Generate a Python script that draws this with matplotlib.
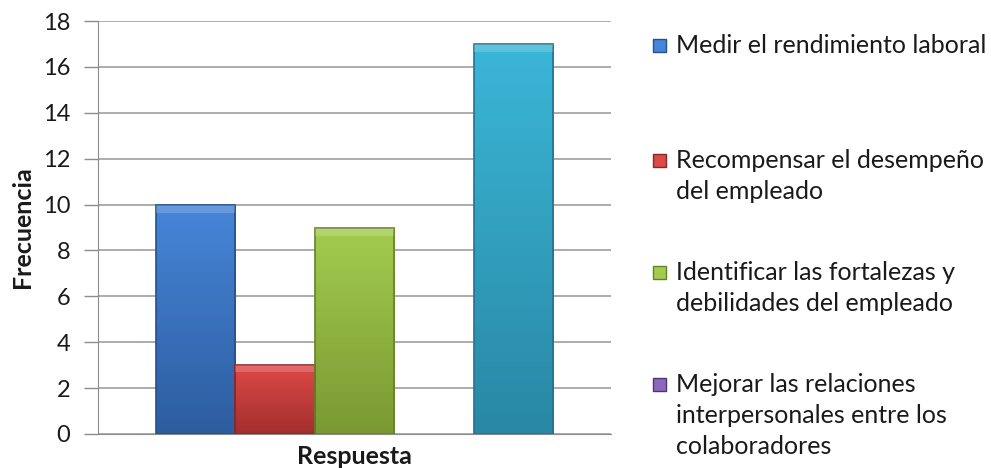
import numpy as np
import matplotlib.pyplot as plt
from matplotlib.colors import LinearSegmentedColormap
from matplotlib.patches import Rectangle

# Survey responses: one bar per answer, all under a single category
series = ['Medir el rendimiento laboral',
          'Recompensar el desempeño\ndel empleado',
          'Identificar las fortalezas y\ndebilidades del empleado',
          'Mejorar las relaciones\ninterpersonales entre los\ncolaboradores',
          'Otra']
values = [10, 3, 9, 0, 17]
y_ticks = [0, 2, 4, 6, 8, 10, 12, 14, 16, 18]

# (top, bottom) gradient colours for each bar
grad = [('#4686d8', '#2d5d9f'),
        ('#dc4a47', '#a32f2d'),
        ('#a3cc4e', '#7a9933'),
        ('#8c68bc', '#5b4185'),
        ('#3bb6d7', '#2988a5')]
edge = ['#24508c', '#8c2624', '#66802a', '#4b366e', '#207490']

plt.rcParams['font.family'] = ['Lato', 'DejaVu Sans']

W, H = 991, 468
fig = plt.figure(figsize=(W / 100, H / 100), dpi=100)
ax = fig.add_axes([98 / W, 1 - 434 / H, (611 - 98) / W, (434 - 21) / H])

n = len(values)
bw = 0.155
xs = (np.arange(n) - (n - 1) / 2) * bw
bars = ax.bar(xs, values, width=bw, color='none', edgecolor='none', zorder=3)

ax.set_xlim(-0.5, 0.5)
ax.set_ylim(0, 18)

# vertical gradient fill clipped to each bar, plus a lighter bevel at the top
for b, (c1, c2), ec in zip(bars, grad, edge):
    x0, y0 = b.get_x(), b.get_y()
    w, h = b.get_width(), b.get_height()
    if h <= 0:
        continue
    cmap = LinearSegmentedColormap.from_list('g', [c2, c1])
    img = ax.imshow(np.linspace(0, 1, 64).reshape(-1, 1), cmap=cmap, origin='lower',
                    extent=[x0, x0 + w, y0, y0 + h], aspect='auto', zorder=3)
    img.set_clip_path(b)
    ax.add_patch(Rectangle((x0, y0), w, h, fill=False, edgecolor=ec, linewidth=1.2, zorder=4))
    bev = min(0.35, h * 0.1)
    ax.add_patch(Rectangle((x0, y0 + h - bev), w, bev, facecolor='white', alpha=0.18,
                           edgecolor='none', zorder=4))

ax.set_yticks(y_ticks)
ax.set_xticks([])
ax.tick_params(axis='y', length=10, width=1, color='#8c8c8c', labelsize=17,
               labelcolor='#1a1a1a', pad=10)
ax.grid(axis='y', color='#a6a6a6', linewidth=1.3, zorder=0)
ax.set_axisbelow(True)
for s in ['top', 'right']:
    ax.spines[s].set_visible(False)
ax.spines['left'].set_color('#8c8c8c')
ax.spines['bottom'].set_color('#8c8c8c')

fig.text(354 / W, 1 - 456 / H, 'Respuesta', ha='center', va='center',
         fontsize=18, fontweight='bold', color='#1a1a1a')
fig.text(23 / W, 1 - 227 / H, 'Frecuencia', ha='center', va='center', rotation=90,
         fontsize=18, fontweight='bold', color='#1a1a1a')

# legend entries (the last series has no visible entry); one text per line
entry_base = [53, 168, 280, 392]
pitch = 31
for lbl, (c1, c2), ec, yb in zip(series[:4], grad, edge, entry_base):
    fig.patches.append(Rectangle((653 / W, 1 - (yb - 1) / H), 13 / W, 13 / H,
                                 transform=fig.transFigure, facecolor=c1,
                                 edgecolor=ec, linewidth=1))
    for i, line in enumerate(lbl.split('\n')):
        fig.text(676 / W, 1 - (yb + i * pitch) / H, line, ha='left', va='baseline',
                 fontsize=18, color='#1a1a1a')

fig.savefig('out.png', dpi=100)
